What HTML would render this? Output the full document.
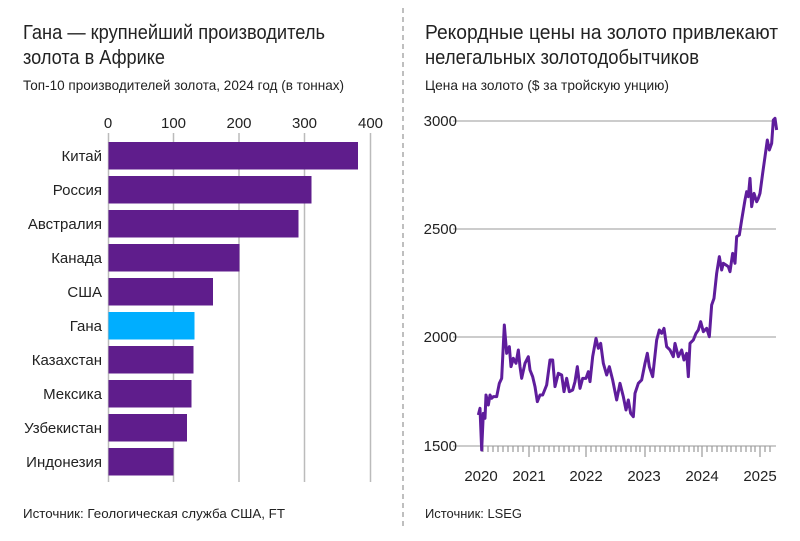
<!DOCTYPE html>
<html><head><meta charset="utf-8"><style>
body{margin:0;background:#fff;}
svg text{font-family:"Liberation Sans Narrow","Liberation Sans",sans-serif;fill:#222;}
</style></head><body>
<svg width="800" height="536" viewBox="0 0 800 536" xmlns="http://www.w3.org/2000/svg">
<rect width="800" height="536" fill="#fff"/>
<text x="23" y="39" font-size="20" textLength="302" lengthAdjust="spacingAndGlyphs">Гана — крупнейший производитель</text>
<text x="23" y="64" font-size="20" textLength="142" lengthAdjust="spacingAndGlyphs">золота в Африке</text>
<text x="23" y="90" font-size="14" textLength="321" lengthAdjust="spacingAndGlyphs">Топ-10 производителей золота, 2024 год (в тоннах)</text>
<g font-size="15" fill="#333" text-anchor="middle">
<text x="108" y="128">0</text><text x="173.5" y="128">100</text><text x="239" y="128">200</text><text x="304.5" y="128">300</text><text x="370.5" y="128">400</text>
</g>
<g stroke="#bbb" stroke-width="1.5">
<line x1="108.5" y1="133" x2="108.5" y2="482"/><line x1="173.5" y1="133" x2="173.5" y2="482"/><line x1="239" y1="133" x2="239" y2="482"/><line x1="304.5" y1="133" x2="304.5" y2="482"/><line x1="370.5" y1="133" x2="370.5" y2="482"/>
</g>
<g fill="#5f1d8c">
<rect x="108.5" y="142" width="249.5" height="27.5"/>
<rect x="108.5" y="176" width="203" height="27.5"/>
<rect x="108.5" y="210" width="190" height="27.5"/>
<rect x="108.5" y="244" width="131" height="27.5"/>
<rect x="108.5" y="278" width="104.5" height="27.5"/>
<rect x="108.5" y="312" width="86" height="27.5" fill="#00aeff"/>
<rect x="108.5" y="346" width="85" height="27.5"/>
<rect x="108.5" y="380" width="83" height="27.5"/>
<rect x="108.5" y="414" width="78.5" height="27.5"/>
<rect x="108.5" y="448" width="65" height="27.5"/>
</g>
<g font-size="15" text-anchor="end" fill="#333">
<text x="102" y="161">Китай</text><text x="102" y="195">Россия</text><text x="102" y="229">Австралия</text><text x="102" y="263">Канада</text><text x="102" y="297">США</text><text x="102" y="331">Гана</text><text x="102" y="365">Казахстан</text><text x="102" y="399">Мексика</text><text x="102" y="433">Узбекистан</text><text x="102" y="467">Индонезия</text>
</g>
<text x="23" y="518" font-size="13" fill="#444" textLength="262" lengthAdjust="spacingAndGlyphs">Источник: Геологическая служба США, FT</text>
<line x1="403" y1="8" x2="403" y2="528" stroke="#aaa" stroke-width="1.5" stroke-dasharray="5,4"/>
<text x="425" y="39" font-size="20" textLength="353" lengthAdjust="spacingAndGlyphs">Рекордные цены на золото привлекают</text>
<text x="425" y="64" font-size="20" textLength="274" lengthAdjust="spacingAndGlyphs">нелегальных золотодобытчиков</text>
<text x="425" y="90" font-size="14" textLength="244" lengthAdjust="spacingAndGlyphs">Цена на золото ($ за тройскую унцию)</text>
<g stroke="#bbb" stroke-width="1.5">
<line x1="453" y1="121" x2="776" y2="121"/><line x1="453" y1="229" x2="776" y2="229"/><line x1="453" y1="337" x2="776" y2="337"/><line x1="453" y1="446" x2="776" y2="446"/>
</g>
<g font-size="15" fill="#333" text-anchor="end">
<text x="457" y="126">3000</text><text x="457" y="234">2500</text><text x="457" y="342">2000</text><text x="457" y="451">1500</text>
</g>
<g font-size="15" fill="#333" text-anchor="middle">
<text x="481" y="481">2020</text><text x="529" y="481">2021</text><text x="586" y="481">2022</text><text x="644" y="481">2023</text><text x="702" y="481">2024</text><text x="760" y="481">2025</text>
</g>
<g stroke="#999" stroke-width="1.2">
<path d="M529 446v11M586 446v11M645 446v11M702 446v11M760 446v11"/>
<path d="M483 446v6M488 446v6M493 446v6M498 446v6M503 446v6M508 446v6M513 446v6M518 446v6M523 446v6M534 446v6M539 446v6M544 446v6M549 446v6M554 446v6M559 446v6M564 446v6M569 446v6M574 446v6M579 446v6M591 446v6M596 446v6M601 446v6M606 446v6M611 446v6M616 446v6M621 446v6M626 446v6M631 446v6M636 446v6M640 446v6M650 446v6M655 446v6M660 446v6M665 446v6M670 446v6M674 446v6M679 446v6M684 446v6M689 446v6M694 446v6M698 446v6M707 446v6M712 446v6M717 446v6M722 446v6M727 446v6M731 446v6M736 446v6M741 446v6M746 446v6M751 446v6M755 446v6M765 446v6M770 446v6"/>
</g>
<g transform="translate(410,100) scale(0.33333)">
<polyline fill="none" stroke="#5f1d9c" stroke-width="9" stroke-linejoin="round" points="205,945 210,925 215,1050 220,940 225,955 228,885 235,915 240,885 245,895 250,890 260,890 268,850 275,835 283,675 290,760 298,740 303,800 310,775 318,790 325,750 330,800 335,835 345,790 355,770 360,810 368,830 375,860 382,905 390,885 398,885 410,855 420,780 428,780 435,860 445,820 455,825 462,875 470,835 478,875 488,870 495,845 502,800 510,865 518,835 528,835 535,815 540,845 548,770 558,715 565,745 572,730 580,790 590,825 598,800 608,840 620,900 630,850 640,890 648,930 655,900 662,940 670,950 675,880 685,850 695,840 705,790 712,760 718,800 728,830 740,720 748,690 755,700 762,685 770,740 780,750 790,770 795,730 805,770 815,750 822,780 830,760 835,830 840,730 850,720 858,700 865,690 872,665 880,695 890,685 898,710 905,615 912,595 920,520 928,470 935,510 940,490 948,495 955,500 960,515 968,460 975,490 980,410 988,405 995,360 1005,300 1010,275 1015,290 1020,235 1025,320 1032,280 1040,305 1045,295 1050,280 1058,220 1065,170 1072,120 1078,150 1085,130 1090,60 1095,55 1100,90"/>
</g>
<text x="425" y="518" font-size="13" fill="#444" textLength="97" lengthAdjust="spacingAndGlyphs">Источник: LSEG</text>
</svg>
</body></html>
